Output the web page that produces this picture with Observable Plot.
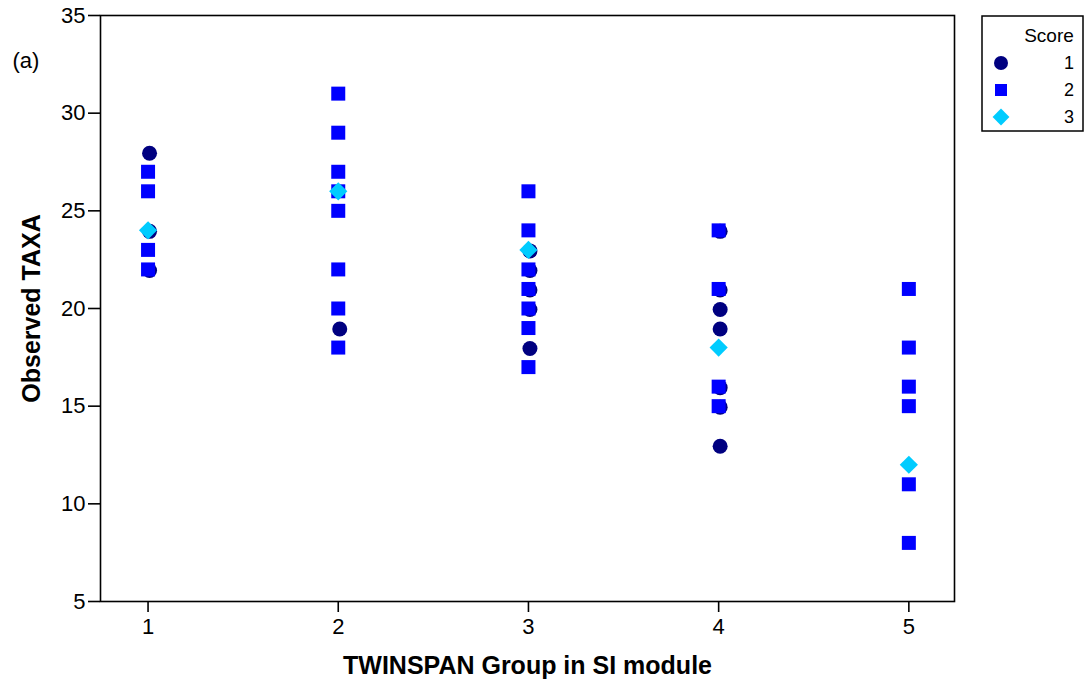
<!DOCTYPE html>
<html>
<head>
<meta charset="utf-8">
<script src="https://cdn.jsdelivr.net/npm/d3@7"></script>
<script src="https://cdn.jsdelivr.net/npm/@observablehq/plot@0.6"></script>
<style>
  html, body { margin: 0; padding: 0; background: #fff; }
  #wrap { position: relative; width: 1086px; height: 687px; font-family: "Liberation Sans", Arial, sans-serif; }
  #legend { position: absolute; left: 0; top: 0; }
  #wrap g[aria-label="x-axis tick label"] text, #wrap g[aria-label="y-axis tick label"] text { font-size: 22px; }
</style>
</head>
<body>
<div id="wrap"></div>
<script>
// ---- data ----
const groups = [1, 2, 3, 4, 5];
const scoreLabels = ["1", "2", "3"];
const scoreColors = ["#000080", "#0000FF", "#00CCFF"];
const scoreSymbols = ["circle", "square", "diamond2"];
// Observed TAXA per TWINSPAN group, per score
const score1Values = [[28, 24, 22], [19], [23, 22, 21, 20, 18], [24, 21, 20, 19, 16, 15, 13], []];
const score2Values = [[27, 26, 23, 22], [31, 29, 27, 26, 25, 22, 20, 18], [26, 24, 22, 21, 20, 19, 17], [24, 21, 16, 15], [21, 18, 16, 15, 11, 8]];
const score3Values = [[24], [26], [23], [18], [12]];
const xTicks = [1, 2, 3, 4, 5];
const yTicks = [5, 10, 15, 20, 25, 30, 35];
const xTitle = "TWINSPAN Group in SI module";
const yTitle = "Observed TAXA";
const panelLabel = "(a)";
const legendTitle = "Score";

function rows(values, score) {
  const out = [];
  values.forEach((vals, i) => vals.forEach(v => out.push({group: groups[i], taxa: v, score})));
  return out;
}
const d1 = rows(score1Values, 1);
const d2 = rows(score2Values, 2);
const d3_ = rows(score3Values, 3);

const font = "'Liberation Sans', Arial, sans-serif";

const chart = Plot.plot({
  width: 1086,
  height: 687,
  marginLeft: 100,
  marginRight: 132,
  marginTop: 15,
  marginBottom: 86,
  style: {fontFamily: font, fontSize: "22px", color: "black", background: "white"},
  x: {domain: [0.75, 5.24], ticks: xTicks},
  y: {domain: [5, 35], ticks: yTicks},
  marks: [
    Plot.dot(d1, {x: "group", y: "taxa", symbol: () => scoreSymbols[0], r: 7.5, fill: scoreColors[0], stroke: "none", dx: 1.5, dy: 1}),
    Plot.dot(d2, {x: "group", y: "taxa", symbol: () => scoreSymbols[1], r: 7.9, fill: scoreColors[1], stroke: "none"}),
    Plot.dot(d3_, {x: "group", y: "taxa", symbol: () => scoreSymbols[2], r: 8.2, fill: scoreColors[2], stroke: "none"}),
    Plot.frame({stroke: "black", strokeWidth: 1.6}),
    Plot.axisX({ticks: xTicks, tickSize: 11, tickPadding: 6, strokeWidth: 1.6, fontSize: 22, label: null, tickFormat: d => String(d)}),
    Plot.axisY({ticks: yTicks, tickSize: 12, tickPadding: 3, strokeWidth: 1.6, fontSize: 22, label: null, tickFormat: d => String(d)}),
    Plot.text([xTitle], {frameAnchor: "bottom", dy: 72, fontSize: 25, fontWeight: "bold", fill: "black", text: d => d}),
    Plot.text([yTitle], {frameAnchor: "left", dx: -69, rotate: -90, textAnchor: "middle", fontSize: 25, fontWeight: "bold", fill: "black", text: d => d}),
    Plot.text([panelLabel], {frameAnchor: "top-left", dx: -88, dy: 37, textAnchor: "start", fontSize: 22, fill: "black", text: d => d})
  ]
});
chart.setAttribute("font-family", font);

const wrap = document.getElementById("wrap");
wrap.appendChild(chart);

// ---- legend overlay ----
const lg = d3.select(wrap).append("svg")
  .attr("id", "legend")
  .attr("width", 1086).attr("height", 687)
  .style("pointer-events", "none");
lg.append("rect").attr("x", 982).attr("y", 16).attr("width", 101).attr("height", 115)
  .attr("fill", "white").attr("stroke", "black").attr("stroke-width", 1.5);
lg.append("text").attr("x", 1049).attr("y", 42).attr("text-anchor", "middle")
  .attr("font-family", font).attr("font-size", 19).text(legendTitle);
const symMap = {circle: d3.symbolCircle, square: d3.symbolSquare, diamond2: d3.symbolDiamond2};
const symSize = [Math.PI * 7 * 7, Math.PI * 6.8 * 6.8, Math.PI * 7.6 * 7.6];
scoreLabels.forEach((lab, i) => {
  const cy = 63 + i * 27;
  lg.append("path").attr("d", d3.symbol(symMap[scoreSymbols[i]], symSize[i])())
    .attr("transform", `translate(1001,${cy})`).attr("fill", scoreColors[i]);
  lg.append("text").attr("x", 1074).attr("y", cy).attr("dy", "0.35em").attr("text-anchor", "end")
    .attr("font-family", font).attr("font-size", 18).text(lab);
});
</script>
</body>
</html>
